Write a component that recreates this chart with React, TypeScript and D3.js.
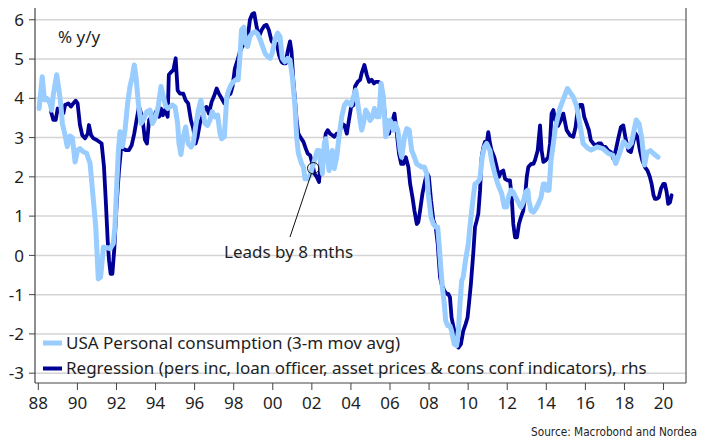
import React from "react";
import * as d3 from "d3";

const consYears = [1988.04,1988.2,1988.31,1988.43,1988.6,1988.68,1988.77,1988.94,1989.06,1989.16,1989.23,1989.37,1989.48,1989.62,1989.74,1989.88,1990.01,1990.13,1990.3,1990.47,1990.65,1990.82,1990.94,1991.07,1991.19,1991.33,1991.5,1991.67,1991.84,1991.92,1992.01,1992.1,1992.18,1992.3,1992.44,1992.57,1992.69,1992.81,1992.91,1993.0,1993.12,1993.26,1993.38,1993.55,1993.72,1993.84,1994.01,1994.14,1994.28,1994.4,1994.52,1994.62,1994.74,1994.86,1995.0,1995.13,1995.2,1995.3,1995.42,1995.54,1995.67,1995.81,1995.93,1996.05,1996.19,1996.32,1996.41,1996.53,1996.66,1996.78,1996.9,1997.04,1997.18,1997.3,1997.38,1997.52,1997.64,1997.72,1997.86,1997.98,1998.1,1998.23,1998.32,1998.4,1998.52,1998.61,1998.71,1998.83,1998.95,1999.09,1999.22,1999.36,1999.51,1999.6,1999.74,1999.86,1999.97,2000.11,2000.25,2000.37,2000.49,2000.62,2000.76,2000.88,2001.0,2001.14,2001.22,2001.31,2001.48,2001.57,2001.65,2001.79,2001.91,2002.03,2002.16,2002.27,2002.37,2002.47,2002.54,2002.64,2002.71,2002.81,2002.88,2002.98,2003.05,2003.15,2003.27,2003.39,2003.53,2003.67,2003.79,2003.9,2004.01,2004.13,2004.25,2004.35,2004.47,2004.55,2004.64,2004.76,2004.86,2004.98,2005.1,2005.2,2005.32,2005.44,2005.54,2005.66,2005.78,2005.88,2006.0,2006.09,2006.17,2006.26,2006.4,2006.52,2006.6,2006.74,2006.86,2006.98,2007.11,2007.25,2007.37,2007.49,2007.62,2007.76,2007.88,2007.96,2008.1,2008.22,2008.34,2008.44,2008.51,2008.61,2008.68,2008.78,2008.85,2008.95,2009.07,2009.15,2009.29,2009.41,2009.5,2009.58,2009.67,2009.75,2009.84,2009.92,2010.01,2010.09,2010.18,2010.26,2010.35,2010.49,2010.6,2010.72,2010.83,2010.95,2011.03,2011.12,2011.2,2011.34,2011.46,2011.58,2011.72,2011.85,2011.97,2012.06,2012.19,2012.31,2012.43,2012.57,2012.7,2012.82,2012.94,2013.05,2013.11,2013.22,2013.34,2013.46,2013.59,2013.73,2013.85,2013.93,2014.02,2014.14,2014.24,2014.36,2014.47,2014.7,2015.08,2015.37,2015.55,2015.7,2015.88,2016.1,2016.3,2016.6,2016.9,2017.16,2017.41,2017.55,2017.75,2017.95,2018.2,2018.35,2018.6,2018.75,2018.88,2019.03,2019.15,2019.32,2019.47,2019.72];
const consValues = [3.74,4.55,3.96,4.0,3.87,3.7,4.1,4.6,4.2,3.8,3.36,3.06,2.77,3.04,3.0,2.38,2.68,2.72,2.64,2.6,2.34,1.4,0.72,-0.6,-0.55,0.21,0.2,0.17,0.3,0.72,1.74,2.68,3.15,2.77,3.2,3.87,4.3,4.55,4.85,4.55,3.87,3.36,3.45,3.66,3.7,3.36,3.53,3.8,4.3,4.04,3.8,3.74,3.78,3.83,3.78,3.36,2.85,2.57,3.02,3.27,2.85,2.76,2.85,3.27,3.7,3.95,3.7,3.36,3.31,3.44,3.66,3.53,3.57,3.1,2.97,3.02,4.0,4.17,4.34,4.42,4.47,4.47,5.06,5.74,5.81,5.4,5.32,5.57,5.66,5.7,5.64,5.49,5.28,5.15,5.06,5.02,5.15,5.49,5.66,5.57,5.02,4.93,5.02,4.98,4.55,3.78,3.02,2.6,2.33,2.25,1.95,1.95,2.04,2.25,2.46,2.67,2.67,2.33,2.08,2.85,2.97,2.5,2.16,2.5,2.67,2.21,2.5,3.02,3.53,3.83,3.91,3.87,3.83,4.04,4.21,3.87,3.44,3.19,3.36,3.7,3.61,3.44,3.53,3.74,3.53,3.53,4.38,4.04,3.02,3.19,3.44,3.36,3.19,3.36,3.19,2.67,2.5,3.02,3.23,3.19,2.67,2.5,2.33,2.29,2.25,2.25,2.08,1.57,0.97,0.8,0.72,0.72,0.3,-0.38,-0.81,-1.24,-1.66,-1.79,-1.79,-1.92,-2.26,-2.3,-1.92,-1.24,-0.64,-0.55,-0.21,0.04,0.3,0.72,1.14,1.48,1.82,1.87,1.95,2.5,2.76,2.85,2.76,2.67,2.42,2.12,1.91,1.74,1.57,1.23,1.23,1.48,1.66,1.61,1.48,1.35,1.23,1.35,1.61,1.66,1.4,1.14,1.1,1.18,1.31,1.48,1.82,1.82,1.66,1.66,2.42,2.85,3.27,3.75,4.25,4.04,3.8,3.4,2.85,2.74,2.68,2.76,2.72,2.6,2.55,2.34,2.6,2.9,2.76,2.85,3.45,3.35,3.0,2.3,2.62,2.67,2.6,2.5];

const regYears = [1988.65,1988.77,1988.89,1988.99,1989.16,1989.28,1989.37,1989.54,1989.67,1989.79,1989.91,1990.01,1990.13,1990.25,1990.39,1990.53,1990.59,1990.7,1990.82,1990.99,1991.24,1991.36,1991.46,1991.55,1991.62,1991.7,1991.79,1991.89,1992.01,1992.13,1992.23,1992.35,1992.47,1992.64,1992.78,1992.91,1993.03,1993.15,1993.32,1993.46,1993.56,1993.67,1993.8,1993.9,1994.01,1994.18,1994.28,1994.37,1994.48,1994.62,1994.68,1994.82,1994.91,1995.03,1995.13,1995.25,1995.42,1995.54,1995.67,1995.81,1995.93,1996.05,1996.15,1996.27,1996.39,1996.49,1996.61,1996.73,1996.87,1997.01,1997.13,1997.24,1997.38,1997.52,1997.64,1997.72,1997.84,1997.94,1998.06,1998.2,1998.32,1998.44,1998.58,1998.71,1998.83,1998.95,1999.05,1999.17,1999.29,1999.43,1999.57,1999.68,1999.8,1999.94,2000.08,2000.2,2000.32,2000.45,2000.54,2000.66,2000.76,2000.88,2000.96,2001.05,2001.14,2001.22,2001.31,2001.4,2001.57,2001.69,2001.79,2001.91,2002.03,2002.13,2002.25,2002.37,2002.47,2002.59,2002.71,2002.81,2002.93,2003.05,2003.15,2003.27,2003.39,2003.53,2003.67,2003.79,2003.87,2004.01,2004.13,2004.21,2004.35,2004.47,2004.55,2004.69,2004.81,2004.93,2005.06,2005.18,2005.27,2005.41,2005.54,2005.65,2005.71,2005.83,2005.95,2006.09,2006.23,2006.35,2006.46,2006.57,2006.69,2006.81,2006.94,2007.03,2007.15,2007.25,2007.37,2007.45,2007.54,2007.66,2007.8,2007.91,2007.99,2008.1,2008.22,2008.34,2008.44,2008.56,2008.64,2008.78,2008.9,2008.98,2009.07,2009.15,2009.29,2009.41,2009.5,2009.63,2009.75,2009.87,2009.97,2010.04,2010.14,2010.26,2010.35,2010.44,2010.52,2010.61,2010.69,2010.78,2010.86,2010.95,2011.03,2011.12,2011.2,2011.34,2011.46,2011.58,2011.68,2011.8,2011.89,2012.02,2012.14,2012.23,2012.31,2012.4,2012.5,2012.6,2012.7,2012.82,2012.91,2013.0,2013.08,2013.22,2013.34,2013.42,2013.56,2013.68,2013.76,2013.85,2013.97,2014.1,2014.19,2014.27,2014.36,2014.45,2014.6,2014.75,2014.87,2015.04,2015.21,2015.38,2015.5,2015.6,2015.72,2015.84,2015.94,2016.06,2016.18,2016.28,2016.4,2016.52,2016.66,2016.8,2016.91,2017.03,2017.17,2017.31,2017.43,2017.55,2017.68,2017.82,2017.94,2018.06,2018.2,2018.33,2018.45,2018.57,2018.67,2018.79,2018.91,2019.05,2019.18,2019.3,2019.39,2019.49,2019.56,2019.66,2019.76,2019.87,2019.99,2020.07,2020.16,2020.24,2020.33,2020.41];
const regValues = [3.66,3.45,3.45,3.74,3.66,3.62,3.83,3.87,3.79,3.87,3.94,3.87,3.32,3.06,2.98,3.1,3.32,3.06,2.98,2.94,2.85,2.26,1.32,0.38,-0.13,-0.47,-0.47,0.17,1.32,2.17,2.68,2.72,2.68,2.68,2.81,3.1,3.45,3.79,3.53,2.94,2.85,3.45,3.53,3.4,3.66,3.53,3.74,3.57,3.7,3.53,4.6,4.68,4.72,5.02,4.2,4.12,4.12,3.95,3.87,3.44,3.23,2.85,3.02,3.36,3.53,3.74,3.78,3.61,3.91,4.08,4.25,4.12,4.0,3.87,3.95,4.08,4.12,4.3,4.76,4.98,5.19,5.32,5.4,5.53,6.0,6.15,6.17,5.83,5.57,5.74,5.85,5.87,5.74,5.45,5.4,5.4,5.1,4.93,4.89,4.89,5.19,5.45,5.19,4.47,3.95,3.44,3.1,3.02,2.89,2.72,2.59,2.55,2.33,2.08,2.0,1.87,2.59,2.63,3.1,3.19,3.1,3.06,3.02,3.1,3.06,3.36,3.31,3.1,3.36,3.78,3.83,4.3,4.42,4.47,4.64,4.85,4.6,4.42,4.47,4.38,4.42,4.42,4.38,4.04,3.7,3.19,3.1,3.36,3.61,3.1,2.59,2.33,2.33,2.5,2.25,1.82,1.48,1.14,0.8,0.85,1.14,1.57,1.91,2.08,2.0,1.4,0.89,0.72,0.3,-0.55,-0.73,-0.9,-0.98,-0.98,-1.07,-1.58,-1.92,-2.18,-2.35,-2.26,-1.92,-1.75,-1.58,-1.24,-0.73,0.04,0.72,0.89,1.06,1.66,2.5,2.76,2.89,2.85,3.14,2.85,2.67,2.5,2.25,2.0,2.12,2.16,1.95,1.91,1.91,1.48,0.8,0.46,0.46,0.8,0.97,1.14,1.48,2.0,2.25,2.33,2.33,2.42,2.67,3.31,2.67,2.38,2.42,2.5,2.85,3.61,3.7,3.45,3.3,3.45,3.61,3.19,3.06,3.02,3.27,3.7,3.83,3.83,3.53,3.36,3.19,2.93,2.85,2.8,2.85,2.85,2.76,2.76,2.67,2.63,2.46,2.67,2.97,3.27,3.31,2.97,2.67,2.63,2.89,3.1,3.02,2.67,2.42,2.25,2.16,2.0,1.82,1.53,1.44,1.44,1.48,1.7,1.82,1.82,1.61,1.31,1.35,1.53];

const yTicks = [-3, -2, -1, 0, 1, 2, 3, 4, 5, 6];
const xTickYears = [1988, 1990, 1992, 1994, 1996, 1998, 2000, 2002, 2004, 2006, 2008, 2010, 2012, 2014, 2016, 2018, 2020];
const xTickLabels = ["88", "90", "92", "94", "96", "98", "00", "02", "04", "06", "08", "10", "12", "14", "16", "18", "20"];
const legendLabels = [
  "USA Personal consumption (3-m mov avg)",
  "Regression (pers inc, loan officer, asset prices & cons conf indicators), rhs",
];
const unitLabel = "% y/y";
const annotationText = "Leads by 8 mths";
const annotationPoint = { year: 2002.07, value: 2.22 };
const sourceText = "Source: Macrobond and Nordea";

const LIGHT = "#99ccff";
const DARK = "#000096";
const FONT = "'Noto Sans', 'Open Sans', sans-serif";
const TEXT = "#1e1e1e";

export default function App() {
  const W = 710, H = 448;
  const left = 35, right = 686, top = 8, bottom = 383;
  const x = d3.scaleLinear().domain([1987.83, 2021.15]).range([left, right]);
  const y = d3.scaleLinear().domain([-3.25, 6.3]).range([bottom, top]);

  const line = d3
    .line<[number, number]>()
    .x((d) => x(d[0]))
    .y((d) => y(d[1]));

  const consPts = consYears.map((yr, i) => [yr, consValues[i]] as [number, number]);
  const regPts = regYears.map((yr, i) => [yr, regValues[i]] as [number, number]);

  const ax = x(annotationPoint.year);
  const ay = y(annotationPoint.value);
  const r = 5.7;

  return (
    <svg
      width={W}
      height={H}
      style={{ position: "absolute", left: 0, top: 0, background: "#fff" }}
      fontFamily={FONT}
    >
      <rect x={0} y={0} width={W} height={H} fill="#fff" />
      {yTicks.map((t) => (
        <line key={"g" + t} x1={left} x2={right} y1={y(t)} y2={y(t)} stroke="#d4d4d4" strokeWidth={1.5} />
      ))}
      {yTicks.map((t) => (
        <g key={"yt" + t}>
          <line x1={left - 6} x2={left} y1={y(t)} y2={y(t)} stroke="#444" strokeWidth={1} />
          <text x={24} y={y(t)} dy="0.36em" textAnchor="end" fontSize={17} fill={TEXT}>
            {t}
          </text>
        </g>
      ))}
      <line x1={left} x2={left} y1={top} y2={bottom} stroke="#444" strokeWidth={1.2} />
      <line x1={right} x2={right} y1={top} y2={bottom} stroke="#555" strokeWidth={1.2} />
      <line x1={left} x2={right} y1={bottom} y2={bottom} stroke="#444" strokeWidth={1.2} />
      {xTickYears.map((t, i) => (
        <g key={"xt" + t}>
          <line x1={x(t)} x2={x(t)} y1={bottom} y2={bottom + 7} stroke="#444" strokeWidth={1} />
          <text x={x(t)} y={409} textAnchor="middle" fontSize={17} fill={TEXT}>
            {xTickLabels[i]}
          </text>
        </g>
      ))}

      <path d={line(regPts) || ""} fill="none" stroke={DARK} strokeWidth={3.8} strokeLinejoin="round" strokeLinecap="round" />
      <path d={line(consPts) || ""} fill="none" stroke={LIGHT} strokeWidth={5} strokeLinejoin="round" strokeLinecap="round" />

      <text x={58} y={43} fontSize={17} fill={TEXT}>{unitLabel}</text>

      <circle cx={ax} cy={ay} r={r} fill="none" stroke="#111" strokeWidth={1} />
      <line x1={ax - 2} x2={290} y1={ay + r} y2={237} stroke="#111" strokeWidth={1} />
      <text x={224} y={258} fontSize={17} fill={TEXT}>{annotationText}</text>

      <line x1={43} x2={62} y1={343} y2={343} stroke={LIGHT} strokeWidth={5} />
      <text x={66} y={348.5} fontSize={17} fill={TEXT}>{legendLabels[0]}</text>
      <line x1={43} x2={62} y1={368.5} y2={368.5} stroke={DARK} strokeWidth={4} />
      <text x={66} y={374} fontSize={17} fill={TEXT}>{legendLabels[1]}</text>

      <text x={697} y={436} textAnchor="end" fontSize={12} fill={TEXT} textLength={166} lengthAdjust="spacingAndGlyphs" fontFamily="'Liberation Sans Narrow', 'DejaVu Sans Condensed', sans-serif">
        {sourceText}
      </text>
    </svg>
  );
}
